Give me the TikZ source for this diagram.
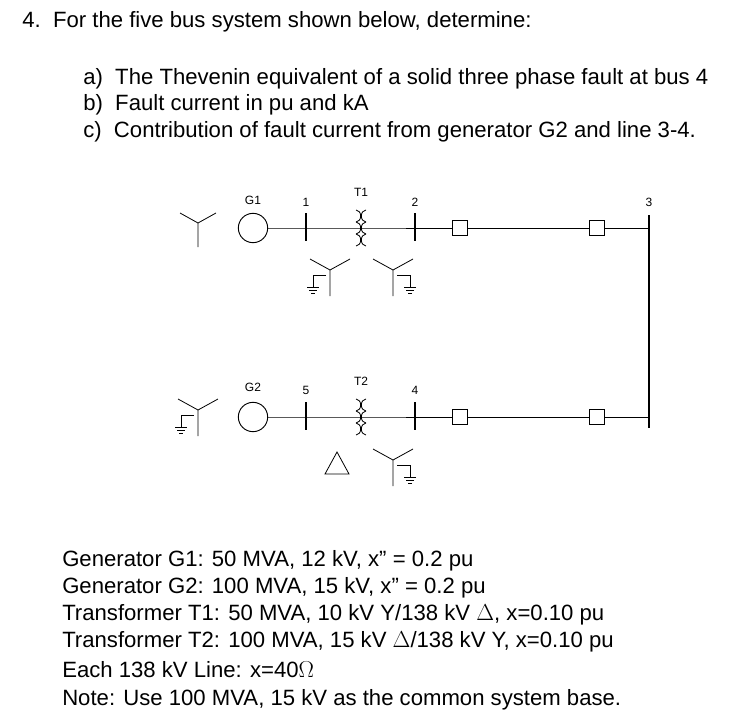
\documentclass[tikz,border=0pt]{standalone}
\usepackage{fontspec}
\setmainfont{Liberation Sans}
\usetikzlibrary{positioning}
\tikzset{
  wire/.style={line width=0.6pt},
  bus/.style={line width=0.8pt},
  breaker/.style={draw, fill=white, minimum size=11pt, inner sep=0pt, line width=0.6pt},
  lbl/.style={font=\fontsize{9}{10}\selectfont},
  txt/.style={anchor=west, inner sep=0pt, font=\fontsize{16.6}{19}\selectfont}
}
% plain wye, junction at #1,#2
\newcommand{\wye}[2]{%
  \draw[wire] (#1,#2) -- ++(0,24) (#1,#2) -- ++(-18,-10) (#1,#2) -- ++(18,-10);}
% grounded wye, #3 = 1 (ground left) or -1 (ground right)
\newcommand{\gwye}[3]{%
  \begin{scope}[shift={(#1,#2)}, xscale=#3]
    \draw[wire] (0,0) -- (0,26) (0,0) -- (-20,-11) (0,0) -- (20,-11);
    \draw[wire] (-4,5) -- (-17,5) -- (-17,17);
    \draw[wire] (-23,17) -- (-11,17) (-21,20) -- (-13,20) (-19,23) -- (-15,23);
  \end{scope}}
\begin{document}
\begin{tikzpicture}[x=0.75pt, y=-0.75pt]
\useasboundingbox (0,0) rectangle (742,721);
% problem text
\node[txt] (q) at (22,22) {4.\ \ For the five bus system shown below, determine:};
\node[txt] (qa) at (83,79) {a)\ \ The Thevenin equivalent of a solid three phase fault at bus 4};
\node[txt] (qb) at (83,105) {b)\ \ Fault current in pu and kA};
\node[txt] (qc) at (83,132) {c)\ \ Contribution of fault current from generator G2 and line 3-4.};

% generators
\node[draw, circle, minimum size=22pt, inner sep=0pt, line width=0.7pt] (g1) at (253,228) {};
\node[draw, circle, minimum size=22pt, inner sep=0pt, line width=0.7pt] (g2) at (253,417) {};
\node[lbl] (lg1) at (253,200) {G1};
\node[lbl] (lg2) at (253,387) {G2};

% buses
\coordinate (b1t) at (306,213); \coordinate (b1b) at (306,241);
\coordinate (b2t) at (415,213); \coordinate (b2b) at (415,241);
\coordinate (b5t) at (306,402); \coordinate (b5b) at (306,430);
\coordinate (b4t) at (415,402); \coordinate (b4b) at (415,430);
\coordinate (b3t) at (649,215); \coordinate (b3b) at (649,428);
\draw[bus] (b1t) -- (b1b) (b2t) -- (b2b) (b5t) -- (b5b) (b4t) -- (b4b) (b3t) -- (b3b);
\node[lbl] (l1) at (306,202) {1};
\node[lbl] (l2) at (415,202) {2};
\node[lbl] (l3) at (649,202) {3};
\node[lbl] (l5) at (306,390) {5};
\node[lbl] (l4) at (415,390) {4};
\node[lbl] (lt1) at (361,192) {T1};
\node[lbl] (lt2) at (361,381) {T2};

% breakers
\node[breaker] (cb23) at (460,228) {};
\node[breaker] (cb32) at (597,228) {};
\node[breaker] (cb45) at (460,417) {};
\node[breaker] (cb34) at (597,417) {};

% transformers
\foreach \y/\n in {228/t1, 417/t2} {
  \coordinate (\n l) at (361,\y);
  \coordinate (\n r) at (361,\y);
  \foreach \k in {-12,0,12} {
    \draw[wire] (356,\y+\k-6) arc[start angle=90, end angle=-90, x radius=3.5pt, y radius=4.5pt];
    \draw[wire] (366,\y+\k-6) arc[start angle=90, end angle=270, x radius=3.5pt, y radius=4.5pt];
  }
}
% connections
\draw[wire] (g1) -- (t1l) -- (cb23) -- (cb32) -- (649,228);
\draw[wire] (g2) -- (t2l) -- (cb45) -- (cb34) -- (649,417);

% winding symbols
\wye{198}{223}
\gwye{330}{270}{1}
\gwye{393}{270}{-1}
\gwye{198}{410}{1}
\gwye{393}{460}{-1}
\draw[wire] (337,452) -- (349,474) -- (325,474) -- cycle;

% data
\node[txt] (d1) at (62,561) {Generator G1: 50 MVA, 12 kV, x'' = 0.2 pu};
\node[txt] (d2) at (62,588) {Generator G2: 100 MVA, 15 kV, x'' = 0.2 pu};
\node[txt] (d3) at (62,615) {Transformer T1: 50 MVA, 10 kV Y/138 kV $\Delta$, x=0.10 pu};
\node[txt] (d4) at (62,642) {Transformer T2: 100 MVA, 15 kV $\Delta$/138 kV Y, x=0.10 pu};
\node[txt] (d5) at (62,670) {Each 138 kV Line: x=40$\Omega$};
\node[txt] (d6) at (62,700) {Note: Use 100 MVA, 15 kV as the common system base.};
\end{tikzpicture}
\end{document}
